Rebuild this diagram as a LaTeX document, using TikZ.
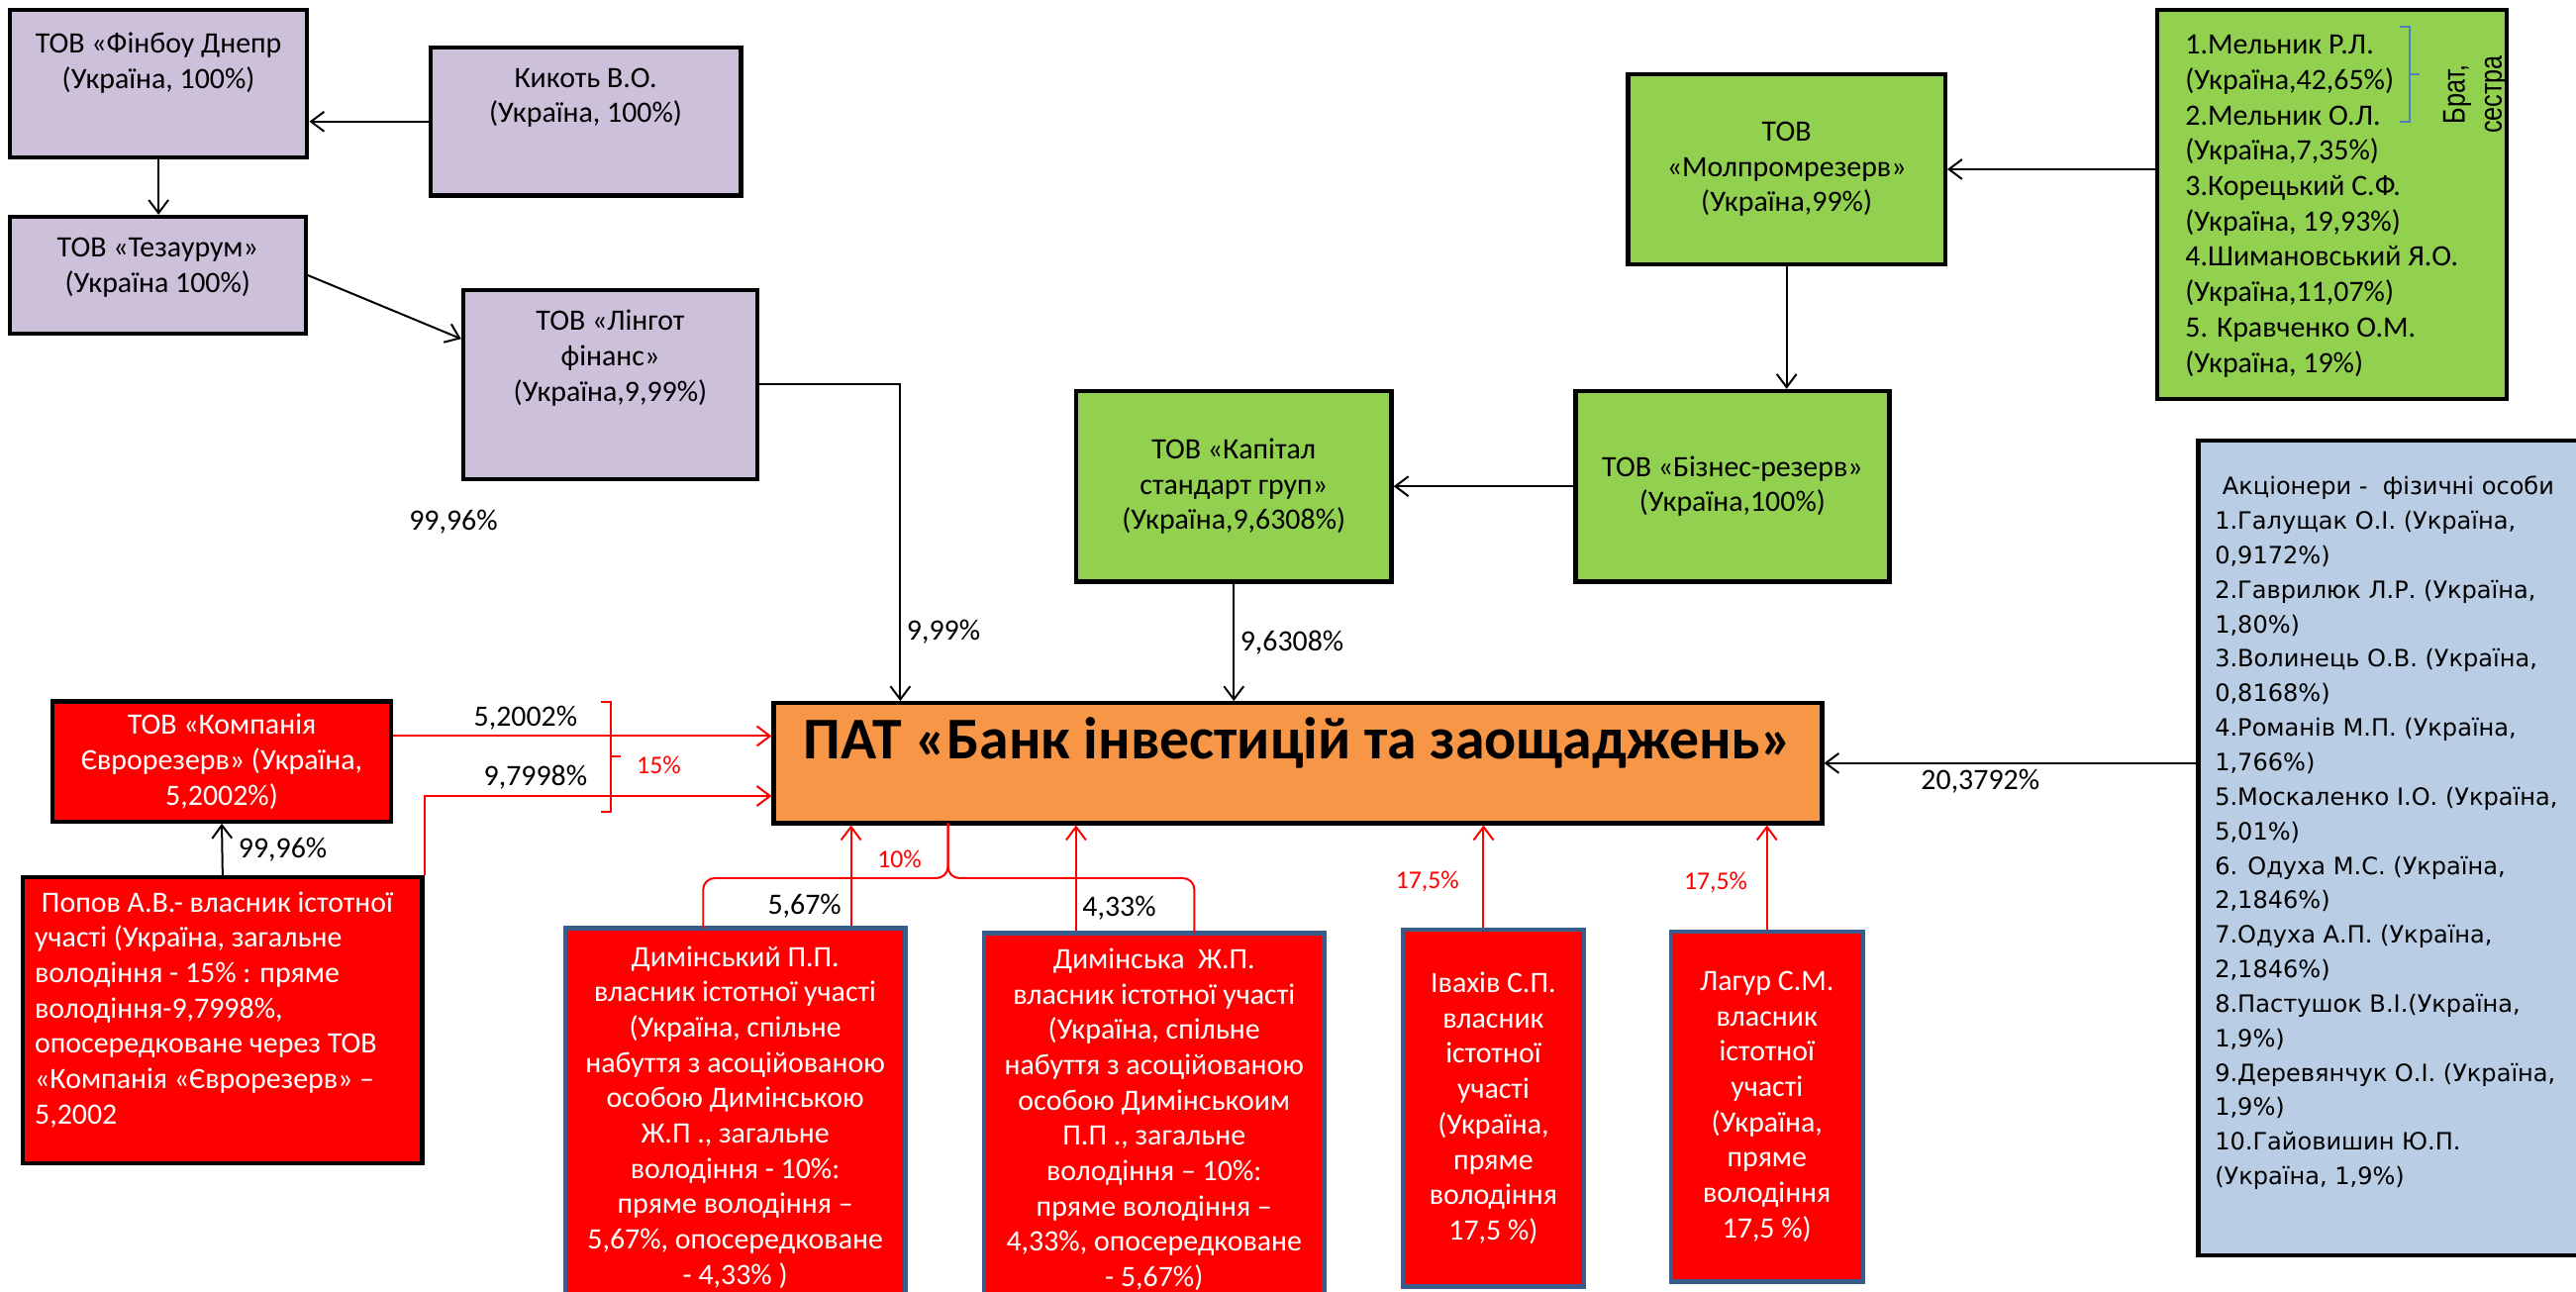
\documentclass[tikz,border=0pt]{standalone}
\usepackage{fontspec}
\usepackage{graphicx}
\setmainfont{Carlito}
\newfontfamily\verdfont{DejaVu Sans}
\newfontfamily\arialfont{Liberation Sans}
\usetikzlibrary{arrows.meta}
\definecolor{lilacfill}{HTML}{CCC0DA}
\definecolor{greenfill}{HTML}{92D050}
\definecolor{bankfill}{HTML}{F79646}
\definecolor{bluefill}{HTML}{B9CDE5}
\definecolor{ownerline}{HTML}{385D8A}
\definecolor{bracketblue}{HTML}{4F81BD}
\newcommand{\boxfont}{\fontsize{18}{21.5}\selectfont}

\begin{document}
\begin{tikzpicture}[x=1pt, y=-1pt,
        box/.style={rectangle, draw, line width=2.6pt, align=center, font=\boxfont},
        lilacbox/.style={box, fill=lilacfill},
        greenbox/.style={box, fill=greenfill},
        redbox/.style={box, fill=red, text=white},
        ownerbox/.style={box, draw=ownerline, fill=red, text=white},
        boxtext/.style={inner sep=0pt, align=center, font=\boxfont},
        arrow/.style={-{Straight Barb[length=8pt,width=12pt]}, line width=1.2pt},
        redarrow/.style={arrow, draw=red},
        redline/.style={draw=red, line width=1.2pt},
        pct/.style={font=\fontsize{18}{21}\selectfont},
        redpct/.style={text=red, font=\fontsize{15.5}{18}\selectfont}
    ]
        \useasboundingbox (0,0) rectangle (1568,786);
        \fill[white] (0,0) rectangle (1568,786);

        \node[lilacbox, minimum width=181pt, minimum height=90pt] (fin) at (96.5,51) {};
        \node[boxtext] (fin-t) at (96.5,38.5) {ТОВ «Фінбоу Днепр\\(Україна, 100\%)};
        \node[lilacbox, minimum width=189pt, minimum height=90pt] (kik) at (356.5,74) {};
        \node[boxtext] (kik-t) at (356.5,59.5) {Кикоть В.О.\\(Україна, 100\%)};
        \node[lilacbox, minimum width=180pt, minimum height=71pt] (tez) at (96,167.5) {};
        \node[boxtext] (tez-t) at (96,163) {ТОВ «Тезаурум»\\(Україна 100\%)};
        \node[lilacbox, minimum width=179pt, minimum height=115pt] (lin) at (371.5,234) {};
        \node[boxtext] (lin-t) at (371.5,218) {ТОВ «Лінгот\\фінанс»\\(Україна,9,99\%)};

        \node[greenbox, minimum width=193pt, minimum height=116pt] (mol) at (1087.5,103) {ТОВ\\«Молпромрезерв»\\(Україна,99\%)};
        \node[greenbox, minimum width=213pt, minimum height=237pt] (mel) at (1419.5,124.5) {};
        \node[boxtext, align=left, anchor=west] (mel-t) at (1330,125.5) {1.Мельник Р.Л.\\(Україна,42,65\%)\\2.Мельник О.Л.\\(Україна,7,35\%)\\3.Корецький С.Ф.\\(Україна, 19,93\%)\\4.Шимановський Я.О.\\(Україна,11,07\%)\\5. Кравченко О.М.\\(Україна, 19\%)};
        \node[rotate=90, inner sep=0pt, font=\arialfont\fontsize{19}{22.5}\selectfont] (sib) at (1507,57.5) {\scalebox{0.8}[1]{\begin{tabular}{@{}c@{}}Брат,\\сестра\end{tabular}}};
        \node[greenbox, minimum width=191pt, minimum height=116pt] (biz) at (1054.5,296) {ТОВ «Бізнес-резерв»\\(Україна,100\%)};
        \node[greenbox, minimum width=192pt, minimum height=116pt] (kap) at (751,296) {ТОВ «Капітал\\стандарт груп»\\(Україна,9,6308\%)};

        \node[box, fill=bankfill, minimum width=638pt, minimum height=73pt, font=\bfseries\fontsize{36}{40}\selectfont, text height=10pt, text depth=15pt] (bank) at (790,464.5) {ПАТ «Банк інвестицій та заощаджень»};

        \node[box, fill=bluefill, minimum width=246pt, minimum height=496pt] (blu) at (1461,516) {};
        \node[boxtext, align=left, anchor=west, font=\verdfont\fontsize{14.5}{21}\selectfont] (blu-t) at (1348,507) {\ Акціонери -\ \ фізичні особи\\1.Галущак О.І. (Україна,\\0,9172\%)\\2.Гаврилюк Л.Р. (Україна,\\1,80\%)\\3.Волинець О.В. (Україна,\\0,8168\%)\\4.Романів М.П. (Україна,\\1,766\%)\\5.Москаленко І.О. (Україна,\\5,01\%)\\6. Одуха М.С. (Україна,\\2,1846\%)\\7.Одуха А.П. (Україна,\\2,1846\%)\\8.Пастушок В.І.(Україна,\\1,9\%)\\9.Деревянчук О.І. (Україна,\\1,9\%)\\10.Гайовишин Ю.П.\\(Україна, 1,9\%)};

        \node[redbox, minimum width=206pt, minimum height=73pt] (kom) at (135,463.5) {ТОВ «Компанія\\Єврорезерв» (Україна,\\5,2002\%)};
        \node[redbox, minimum width=243pt, minimum height=174pt] (pop) at (135.5,621) {};
        \node[boxtext, align=left, anchor=west, text=white] (pop-t) at (21,614.5) {\ Попов А.В.- власник істотної\\участі (Україна, загальне\\володіння - 15\% : пряме\\володіння-9,7998\%,\\опосередковане через ТОВ\\«Компанія «Єврорезерв» –\\5,2002};

        \node[ownerbox, minimum width=207pt, minimum height=230pt] (dp) at (447.5,680) {Димінський П.П.\\власник істотної участі\\(Україна, спільне\\набуття з асоційованою\\особою Димінською\\Ж.П ., загальне\\володіння - 10\%:\\пряме володіння –\\5,67\%, опосередковане\\- 4,33\% )};
        \node[ownerbox, minimum width=207pt, minimum height=227pt] (dz) at (702.5,681.5) {Димінська\ \ Ж.П.\\власник істотної участі\\(Україна, спільне\\набуття з асоційованою\\особою Димінськоим\\П.П ., загальне\\володіння – 10\%:\\пряме володіння –\\4,33\%, опосередковане\\- 5,67\%)};
        \node[ownerbox, minimum width=110pt, minimum height=217pt] (iv) at (909,674.5) {Івахів С.П.\\власник\\істотної\\участі\\(Україна,\\пряме\\володіння\\17,5 \%)};
        \node[ownerbox, minimum width=117pt, minimum height=213pt] (lag) at (1075.5,673.5) {Лагур С.М.\\власник\\істотної\\участі\\(Україна,\\пряме\\володіння\\17,5 \%)};

        \node[pct] (own) at (276,318) {99,96\%};
        \node[redpct] (ten) at (547.5,523) {10\%};
        \node[redpct] (fifteen) at (401,466) {15\%};

        \coordinate (lindrop) at (548,0);
        \coordinate (row1) at (0,448);
        \coordinate (row2) at (0,484.5);

        \draw[arrow] (kik.west) -- (kik.west -| fin.east);
        \draw[arrow] (fin.south) -- (fin.south |- tez.north);
        \draw[arrow] (tez.east) -- (lin.163);
        \draw[arrow] (lin.east) -| node[pct, right, pos=0.89] {9,99\%} (lindrop |- bank.north);
        \draw[arrow] (mel.west |- mol.east) -- (mol.east);
        \draw[arrow] (mol.south) -- (mol.south |- biz.north);
        \draw[arrow] (biz.west) -- (kap.east);
        \draw[arrow] (kap.south) -- node[pct, right, pos=0.5] {9,6308\%} (kap.south |- bank.north);
        \draw[arrow] (blu.west |- bank.east) -- node[pct, below, pos=0.58] {20,3792\%} (bank.east);
        \draw[arrow] (pop.north) -- node[pct, right=6pt] {99,96\%} (kom.south);

        \draw[redarrow] (kom.east |- row1) -- node[pct, above, pos=0.35] {5,2002\%} (bank.west |- row1);
        \draw[redarrow] (pop.north east) |- node[pct, above, pos=0.66] {9,7998\%} (bank.west |- row2);
        \draw[redarrow] ([xshift=70.5pt]dp.north) -- node[pct, left=2pt, pos=0.2] {5,67\%} ([xshift=70.5pt]dp.north |- bank.south);
        \draw[redarrow] ([xshift=-47.5pt]dz.north) -- node[pct, right, pos=0.22] {4,33\%} ([xshift=-47.5pt]dz.north |- bank.south);
        \draw[redarrow] ([xshift=-6pt]iv.north) -- node[redpct, left=11pt, pos=0.45] {17,5\%} ([xshift=-6pt]iv.north |- bank.south);
        \draw[redarrow] (lag.north) -- node[redpct, left=8pt, pos=0.45] {17,5\%} (lag.north |- bank.south);

        \draw[redline] (366,427) -- (372,427) -- (372,494) -- (366,494);
        \draw[redline] (372,460.5) -- (378,460.5);
        \draw[redline, rounded corners=7pt] (428,565) |- (577,534.5) -- (577,501);
        \draw[redline, rounded corners=7pt] (577,501) -- (577,534.5) -| (727,568);
        \draw[draw=bracketblue, line width=1.2pt] (1461,16) -- (1467,16) -- (1467,74) -- (1461,74);
        \draw[draw=bracketblue, line width=1.2pt] (1467,45) -- (1473,45);
    \end{tikzpicture}
\end{document}
